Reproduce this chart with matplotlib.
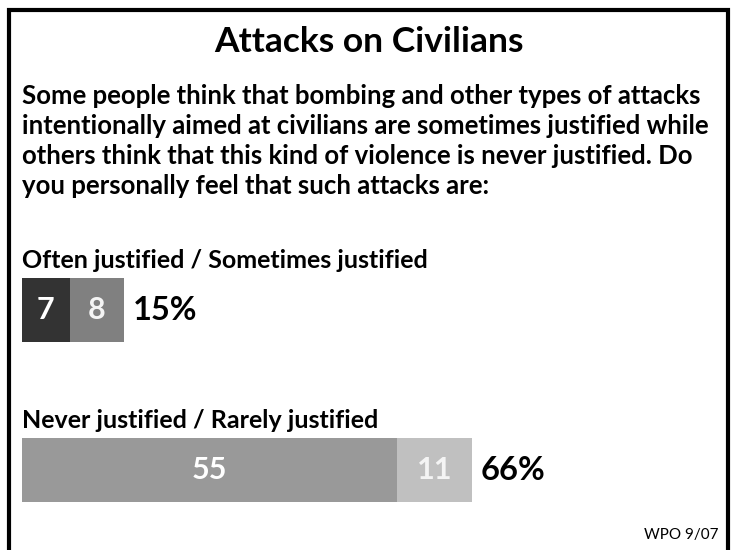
import matplotlib.pyplot as plt
from matplotlib.patches import Rectangle

plt.rcParams['font.family'] = ['Lato', 'DejaVu Sans']

# survey data
title = 'Attacks on Civilians'
question = ['Some people think that bombing and other types of attacks',
            'intentionally aimed at civilians are sometimes justified while',
            'others think that this kind of violence is never justified. Do',
            'you personally feel that such attacks are:']
categories = ['Often justified / Sometimes justified',
              'Never justified / Rarely justified']
first_part = [7, 55]
second_part = [8, 11]
first_colors = ['#333333', '#999999']
second_colors = ['#808080', '#c0c0c0']
source = 'WPO 9/07'

W, H = 734, 550
fig = plt.figure(figsize=(W / 100, H / 100), dpi=100)
fig.patch.set_facecolor('white')

def fx(px):
    return px / W

def fy(py):
    return 1 - py / H

# outer frame, open at the bottom edge
fig.patches.append(Rectangle((fx(9), fy(H + 20)), fx(728) - fx(9), fy(10) - fy(H + 20),
                             transform=fig.transFigure, fill=False,
                             edgecolor='black', linewidth=3))

fig.text(fx(369), fy(42), title, ha='center', va='center',
         fontsize=25.5, fontweight='bold')

for i, line in enumerate(question):
    fig.text(fx(22), fy(96 + 30 * i), line, ha='left', va='center',
             fontsize=18.5, fontweight='bold')

# bar area: 1 percentage point = 6.82 px, row spacing 160 px
scale = 6.82
ax = fig.add_axes([fx(22), 0, 1 - fx(22), 1])
ax.set_xlim(0, (W - 22) / scale)
ax.set_ylim((H - 310) / 160, -310 / 160)
ax.axis('off')

rows = range(len(categories))
ax.barh(rows, first_part, height=0.4, color=first_colors)
ax.barh(rows, second_part, left=first_part, height=0.4, color=second_colors)

for i in rows:
    a, b = first_part[i], second_part[i]
    ax.text(a / 2, i, str(a), ha='center', va='center', color='white',
            fontsize=22, fontweight='bold')
    ax.text(a + b / 2, i, str(b), ha='center', va='center', color='#f4f4f4',
            fontsize=22, fontweight='bold')
    ax.text(a + b + 1.3, i, f'{a + b}%', ha='left', va='center', color='black',
            fontsize=23.5, fontweight='bold')
    ax.text(0, i - 0.26, categories[i], ha='left', va='baseline',
            fontsize=18, fontweight='bold')

fig.text(fx(718), fy(535), source, ha='right', va='center', fontsize=11)

fig.savefig('out.png', dpi=100)
